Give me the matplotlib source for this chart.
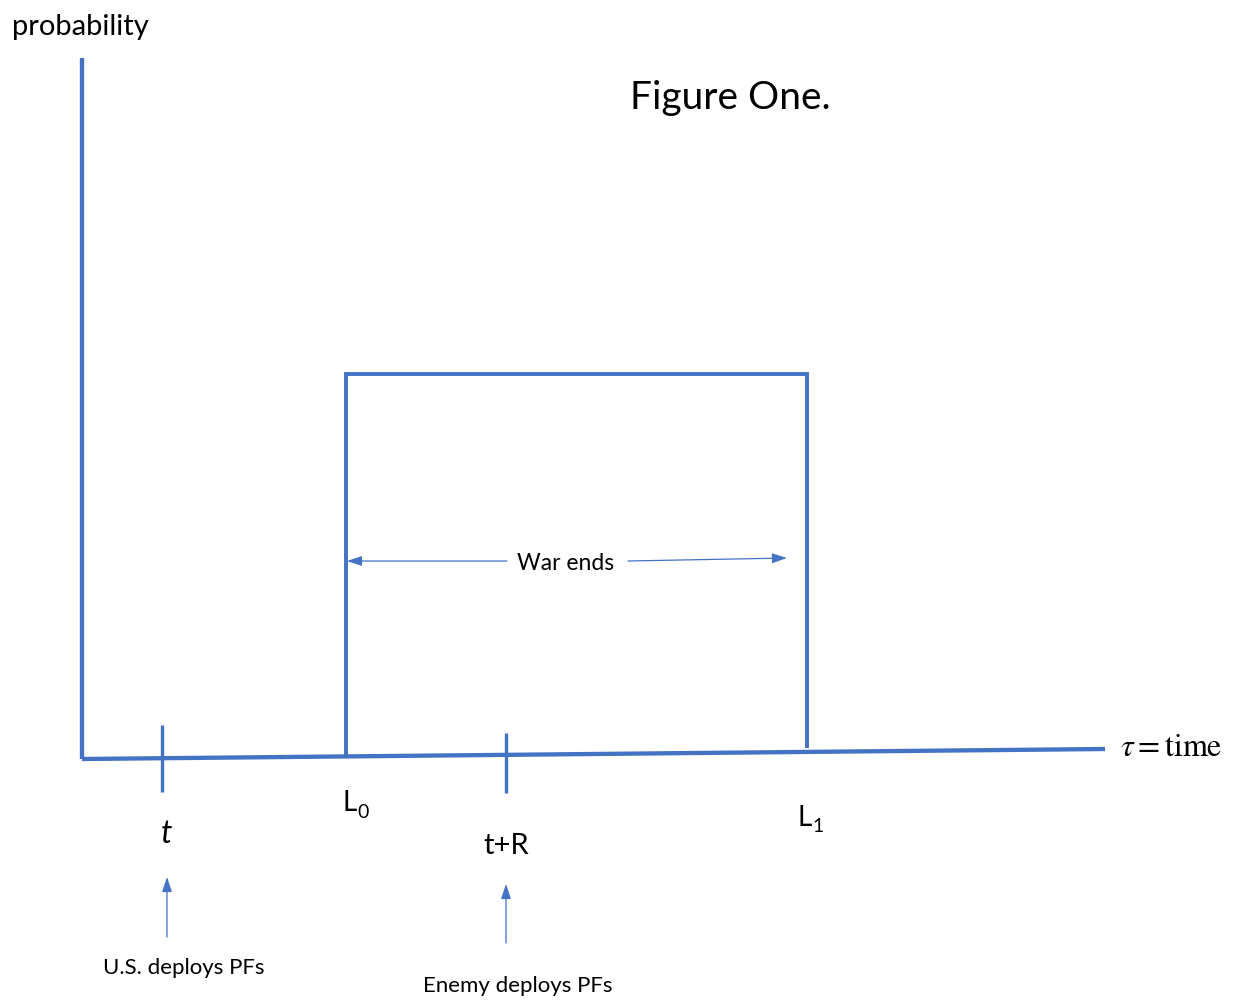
import matplotlib
matplotlib.use("Agg")
from matplotlib import pyplot as plt

plt.rcParams['font.family'] = ['Lato', 'DejaVu Sans']
plt.rcParams['mathtext.fontset'] = 'stix'

blue = "#4472C4"

# diagram geometry (canvas units, y grows downward)
yaxis_x = [82, 82]
yaxis_y = [58, 759]
xaxis_x = [82, 1105]
xaxis_y = [759, 749]
box_x = [346, 346, 807, 807]
box_y = [756, 374, 374, 748]
tick_x = [162, 506]
tick_top = [725, 733]
tick_bot = [792, 793]

axis_labels = ["t", "t+R"]
axis_label_x = [167, 506]
axis_label_y = [834, 846]

limit_main = ["L", "L"]
limit_sub = ["0", "1"]
limit_x = [357, 812]
limit_y = [803, 818]

event_labels = ["U.S. deploys PFs", "Enemy deploys PFs"]
event_arrow_x = [167, 506]
event_arrow_tail = [937, 943]
event_arrow_head = [877, 884]
event_label_x = [184, 518]
event_label_y = [968, 986]

fig = plt.figure(figsize=(12.43, 10.08), dpi=100)
ax = fig.add_axes([0, 0, 1, 1])
ax.set_xlim(0, 1243)
ax.set_ylim(1008, 0)
ax.axis('off')

ax.plot(yaxis_x, yaxis_y, color=blue, lw=3.1, solid_capstyle='butt')
ax.plot(xaxis_x, xaxis_y, color=blue, lw=3.1, solid_capstyle='butt')
ax.plot(box_x, box_y, color=blue, lw=2.8, solid_capstyle='butt', solid_joinstyle='miter')
for x, t0, t1 in zip(tick_x, tick_top, tick_bot):
    ax.plot([x, x], [t0, t1], color=blue, lw=2.4, solid_capstyle='butt')

ax.text(axis_label_x[0], axis_label_y[0], axis_labels[0], ha='center', va='center',
        fontsize=23, style='italic')
ax.text(axis_label_x[1], axis_label_y[1], axis_labels[1], ha='center', va='center',
        fontsize=21)

for m, s, x, y in zip(limit_main, limit_sub, limit_x, limit_y):
    ax.text(x, y, m, ha='right', va='center', fontsize=20)
    ax.text(x, y + 9, s, ha='left', va='center', fontsize=14)

head = '-|>,head_length=0.9,head_width=0.3'
for x, t0, t1, s, lx, ly in zip(event_arrow_x, event_arrow_tail, event_arrow_head,
                                event_labels, event_label_x, event_label_y):
    ax.annotate("", xy=(x, t1), xytext=(x, t0),
                arrowprops=dict(arrowstyle=head, color=blue, lw=0.9, shrinkA=0, shrinkB=0))
    ax.text(lx, ly, s, ha='center', va='center', fontsize=16)

# "War ends" span arrows
ax.annotate("", xy=(347, 561), xytext=(507, 561),
            arrowprops=dict(arrowstyle=head, color=blue, lw=0.9, shrinkA=0, shrinkB=0))
ax.annotate("", xy=(787, 558), xytext=(628, 561),
            arrowprops=dict(arrowstyle=head, color=blue, lw=0.9, shrinkA=0, shrinkB=0))
ax.text(566, 563, "War ends", ha='center', va='center', fontsize=16.5)

ax.text(12, 27, "probability", ha='left', va='center', fontsize=21)
ax.text(730, 98, "Figure One.", ha='center', va='center', fontsize=28)
ax.text(1120, 747, r"$\tau = \mathrm{time}$", ha='left', va='center', fontsize=23)

fig.savefig("out.png", dpi=100)
